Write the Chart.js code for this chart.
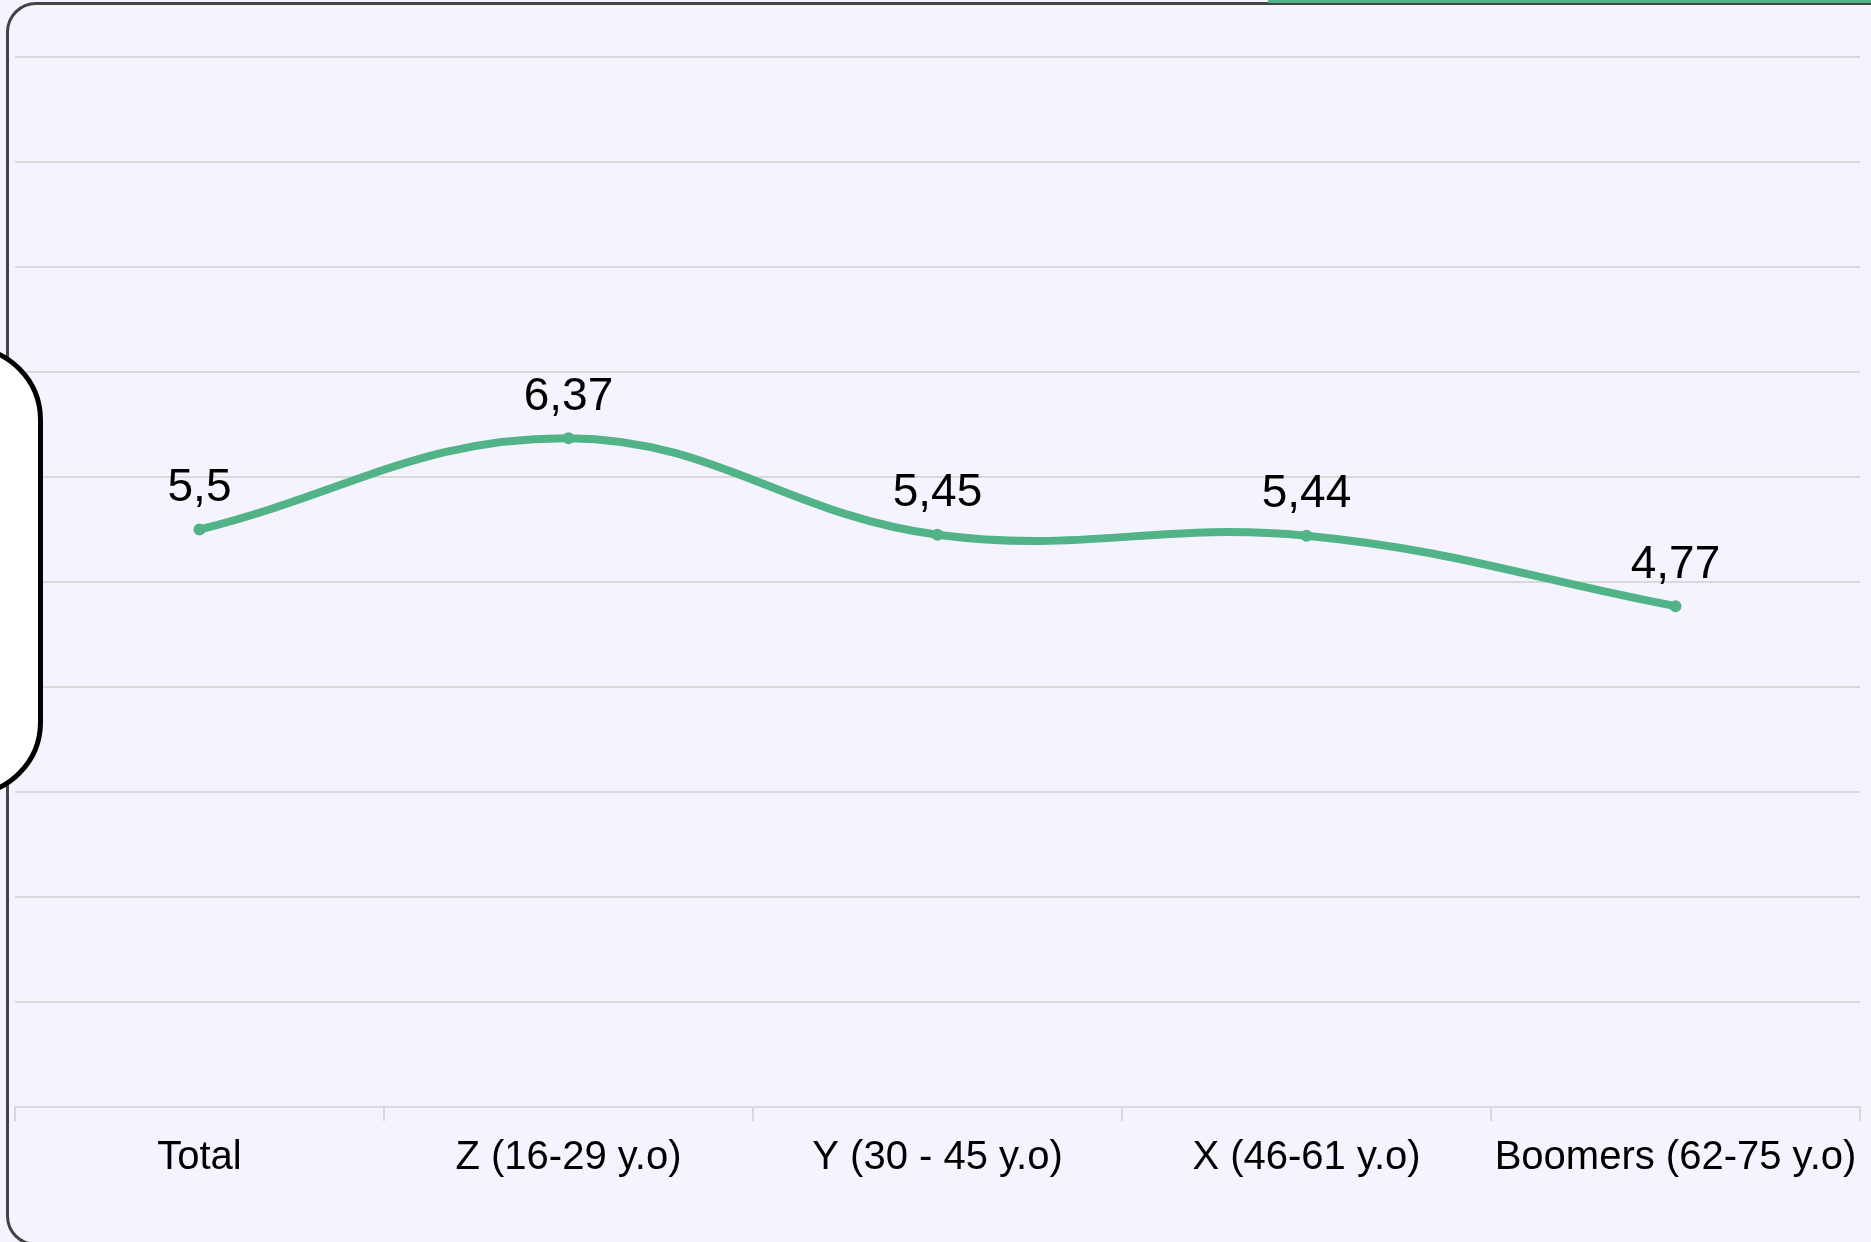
<!DOCTYPE html>
<html>
<head>
<meta charset="utf-8">
<script src="https://cdn.jsdelivr.net/npm/chart.js@4/dist/chart.umd.min.js"></script>
<style>
    html, body {
        margin: 0;
        padding: 0;
        width: 1871px;
        height: 1242px;
        overflow: hidden;
        background: #f4f3fe;
        font-family: Arial, "Liberation Sans", sans-serif;
    }
    .card {
        position: absolute;
        left: 6px;
        top: 2px;
        width: 1920px;
        height: 1244px;
        border: 3px solid #444;
        border-radius: 30px;
        box-sizing: border-box;
    }
    .topBar {
        position: absolute;
        left: 1268px;
        top: 0;
        width: 603px;
        height: 3px;
        background: #52b388;
    }
    .sideTab {
        position: absolute;
        left: -120px;
        top: 345px;
        width: 163px;
        height: 452px;
        background: #fff;
        border: 5px solid #000;
        border-radius: 75px;
        box-sizing: border-box;
    }
    #wrap {
        position: absolute;
        left: 0;
        top: 0;
        width: 1871px;
        height: 1242px;
    }
</style>
</head>
<body>
<div class="card"></div>
<div class="topBar"></div>
<div id="wrap"><canvas id="lineChart"></canvas></div>
<div class="sideTab"></div>

<script>
const categories = [
    "Total",
    "Z (16-29 y.o)",
    "Y (30 - 45 y.o)",
    "X (46-61 y.o)",
    "Boomers (62-75 y.o)"
];

const scores = [5.5, 6.37, 5.45, 5.44, 4.77];

const yTicks = [0, 1, 2, 3, 4, 5, 6, 7, 8, 9, 10];

const lineColor = "#52b388";
const gridColor = "#d9d9d9";

// value labels above each point, comma decimals
const valueLabels = {
    id: "valueLabels",
    afterDatasetsDraw(chart) {
        const ctx = chart.ctx;
        const meta = chart.getDatasetMeta(0);
        ctx.save();
        ctx.font = "46px Arial, 'Liberation Sans', sans-serif";
        ctx.fillStyle = "#000";
        ctx.textAlign = "center";
        ctx.textBaseline = "middle";
        meta.data.forEach((pt, i) => {
            const txt = String(scores[i]).replace(".", ",");
            ctx.fillText(txt, pt.x, pt.y - 41);
        });
        ctx.restore();
    }
};

const lineCtx = document.getElementById("lineChart");

if (lineCtx) {

    new Chart(lineCtx, {

        type: "line",

        data: {
            labels: categories,
            datasets: [{
                data: scores,
                borderColor: lineColor,
                backgroundColor: lineColor,
                borderWidth: 8,
                tension: 0.4,
                pointRadius: 6,
                pointBorderWidth: 0,
                pointBackgroundColor: lineColor,
                fill: false
            }]
        },

        options: {
            responsive: true,
            maintainAspectRatio: false,
            animation: false,
            layout: {
                padding: { left: 15, right: 11, top: 57, bottom: 0 }
            },
            plugins: {
                legend: { display: false },
                tooltip: { enabled: false }
            },
            scales: {
                x: {
                    offset: true,
                    afterFit(scale) { scale.height = 135; },
                    grid: {
                        offset: true,
                        drawOnChartArea: false,
                        drawTicks: true,
                        tickLength: 14,
                        color: gridColor,
                        lineWidth: 2
                    },
                    border: { display: true, color: gridColor, width: 2 },
                    ticks: {
                        color: "#000",
                        padding: 13,
                        maxRotation: 0,
                        autoSkip: false,
                        font: { family: "Arial, 'Liberation Sans', sans-serif", size: 40 }
                    }
                },
                y: {
                    min: yTicks[0],
                    max: yTicks[yTicks.length - 1],
                    afterFit(scale) { scale.width = 0; },
                    afterBuildTicks(scale) {
                        scale.ticks = yTicks.map(v => ({ value: v }));
                    },
                    grid: {
                        color: gridColor,
                        lineWidth: 2,
                        drawTicks: false
                    },
                    border: { display: false },
                    ticks: { display: false }
                }
            }
        },

        plugins: [valueLabels]

    });

}
</script>
</body>
</html>
